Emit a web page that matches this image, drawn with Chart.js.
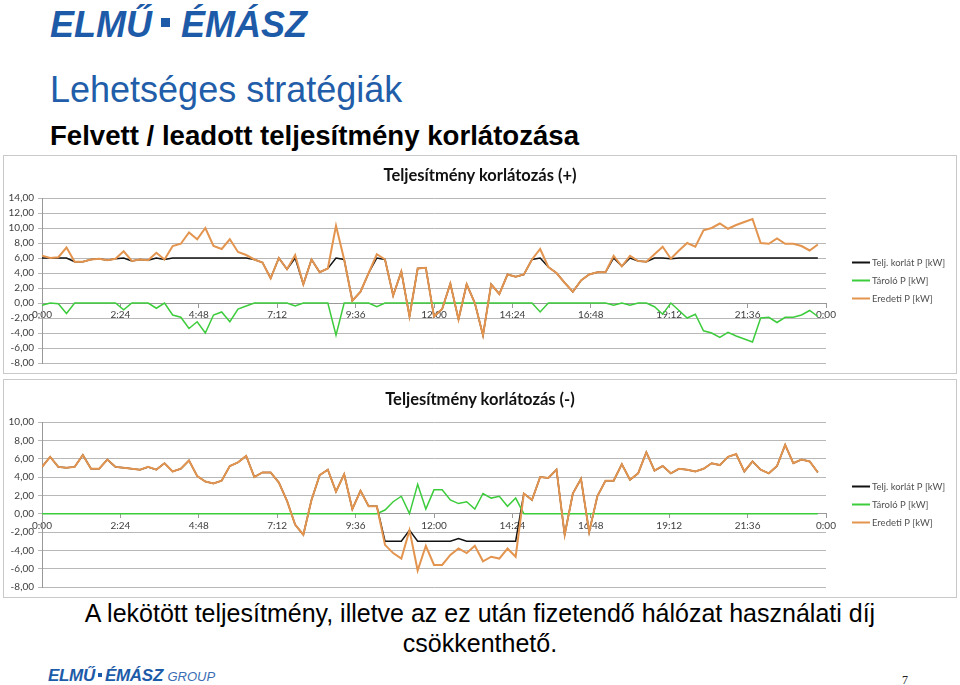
<!DOCTYPE html>
<html>
<head>
<meta charset="utf-8">
<title>Lehetséges stratégiák</title>
<script src="https://cdn.jsdelivr.net/npm/chart.js@4.4.1/dist/chart.umd.min.js"></script>
<style>
  body { margin: 0; width: 960px; height: 685px; position: relative; background: #fff; font-family: "Liberation Sans", Arial, sans-serif; overflow: hidden; }
  .abs { position: absolute; white-space: nowrap; }
  #logo { left: 50px; top: 7px; font: italic bold 36px/36px "Liberation Sans", Arial, sans-serif; color: #1d5ba8; }
  .sq { display: inline-block; width: 9px; height: 9px; background: #1d5ba8; vertical-align: 10px; margin: 0 11px 0 9px; }
  #title { left: 50px; top: 71px; font: 36px/37px "Liberation Sans", Arial, sans-serif; color: #215da8; }
  #subtitle { left: 50px; top: 122px; font: bold 27.6px/28px "Liberation Sans", Arial, sans-serif; color: #000; }
  .box { position: absolute; left: 3px; width: 952px; height: 217px; border: 1px solid #c9c9c9; }
  #box1 { top: 155px; }
  #box2 { top: 379px; }
  .ctitle { position: absolute; left: 0; top: 9px; width: 100%; text-align: center; font: bold 16.5px/20px Lato, sans-serif; color: #111; z-index: 2; }
  #note { left: 0; width: 960px; top: 598px; text-align: center; font: 25px/30px "Liberation Sans", Arial, sans-serif; color: #000; }
  #footlogo { left: 48px; top: 667px; font: italic bold 17px/17px "Liberation Sans", Arial, sans-serif; color: #1d5ba8; letter-spacing: -0.3px; }
  #footlogo .sq { width: 4px; height: 4px; vertical-align: 4px; margin: 0 3px; }
  #footlogo .grp { font-weight: normal; font-size: 13px; color: #3a6db3; letter-spacing: 0; }
  #page { left: 902px; top: 674px; font: 12px/12px "Liberation Serif", serif; color: #222; }
</style>
</head>
<body>
<div id="logo" class="abs">ELMŰ<span class="sq"></span>ÉMÁSZ</div>
<div id="title" class="abs">Lehetséges stratégiák</div>
<div id="subtitle" class="abs">Felvett / leadott teljesítmény korlátozása</div>

<div id="box1" class="box"><div class="ctitle">Teljesítmény korlátozás (+)</div><canvas id="chartPlus"></canvas></div>
<div id="box2" class="box"><div class="ctitle">Teljesítmény korlátozás (-)</div><canvas id="chartMinus"></canvas></div>

<div id="note" class="abs">A lekötött teljesítmény, illetve az ez után fizetendő hálózat használati díj<br>csökkenthető.</div>
<div id="footlogo" class="abs">ELMŰ<span class="sq"></span>ÉMÁSZ <span class="grp">GROUP</span></div>
<div id="page" class="abs">7</div>

<script>
// 15 minute readings over one day
var slotMinutes = 15;
var timeLabels = ['0:00', '2:24', '4:48', '7:12', '9:36', '12:00', '14:24', '16:48', '19:12', '21:36', '0:00'];
var seriesNames = ['Telj. korlát P [kW]', 'Tároló P [kW]', 'Eredeti P [kW]'];

// Teljesítmény korlátozás (+)
var plusLimit = [6.0,6.0,6.0,6.0,5.5,5.5,5.8,5.9,5.7,5.9,
  6.0,5.6,5.8,5.7,6.0,5.8,6.0,6.0,6.0,6.0,
  6.0,6.0,6.0,6.0,6.0,6.0,5.8,5.4,3.3,6.0,
  4.5,6.0,2.5,5.8,4.1,4.6,6.0,5.8,0.3,1.5,
  4.0,6.0,5.8,1.0,4.2,-1.8,4.6,4.7,-1.8,-0.8,
  2.6,-2.2,2.5,0.0,-4.3,2.5,1.2,3.8,3.5,3.8,
  5.8,6.0,4.8,4.0,2.7,1.5,3.0,3.8,4.1,4.1,
  6.0,4.9,6.0,5.6,5.5,6.0,6.0,5.9,6.0,6.0,
  6.0,6.0,6.0,6.0,6.0,6.0,6.0,6.0,6.0,6.0,
  6.0,6.0,6.0,6.0,6.0,6.0];
var plusStorage = [-0.3,0,-0.1,-1.4,0,0,0,0,0,0,
  -0.9,0,0,0,-0.7,0,-1.6,-1.9,-3.4,-2.5,
  -4.0,-1.6,-1.2,-2.5,-0.8,-0.4,0,0,0,0,
  0,-0.4,0,0,0,0,-4.3,0,0,0,
  0,-0.5,0,0,0,0,0,0,0,0,
  0,0,0,0,0,0,0,0,0,0,
  0,-1.2,0,0,0,0,0,0,0,0,
  -0.3,0,-0.3,0,0,-0.5,-1.5,0,-1.0,-2.0,
  -1.5,-3.7,-4.0,-4.6,-3.9,-4.4,-4.8,-5.2,-2.0,-1.9,
  -2.6,-1.9,-1.9,-1.6,-1.0,-1.8];
var plusOriginal = [6.3,6.0,6.1,7.4,5.5,5.5,5.8,5.9,5.7,5.9,
  6.9,5.6,5.8,5.7,6.7,5.8,7.6,7.9,9.4,8.5,
  10.0,7.6,7.2,8.5,6.8,6.4,5.8,5.4,3.3,6.0,
  4.5,6.4,2.5,5.8,4.1,4.6,10.3,5.8,0.3,1.5,
  4.0,6.5,5.8,1.0,4.2,-1.8,4.6,4.7,-1.8,-0.8,
  2.6,-2.2,2.5,0.0,-4.3,2.5,1.2,3.8,3.5,3.8,
  5.8,7.2,4.8,4.0,2.7,1.5,3.0,3.8,4.1,4.1,
  6.3,4.9,6.3,5.6,5.5,6.5,7.5,5.9,7.0,8.0,
  7.5,9.7,10.0,10.6,9.9,10.4,10.8,11.2,8.0,7.9,
  8.6,7.9,7.9,7.6,7.0,7.8];

// Teljesítmény korlátozás (-)
var minusLimit = [5.1,6.2,5.1,5.0,5.1,6.4,4.9,4.9,5.9,5.1,
  5.0,4.9,4.8,5.1,4.8,5.5,4.6,4.9,5.8,4.1,
  3.5,3.3,3.6,5.2,5.6,6.3,4.0,4.5,4.5,3.4,
  1.4,-1.2,-2.3,1.5,4.2,4.8,2.4,4.3,0.5,2.5,
  0.8,0.8,-3.0,-3.0,-3.0,-1.8,-3.0,-3.0,-3.0,-3.0,
  -3.0,-2.7,-3.0,-3.0,-3.0,-3.0,-3.0,-3.0,-3.0,2.2,
  1.5,4.0,3.9,4.8,-2.3,2.2,3.8,-2.0,1.9,3.6,
  3.6,5.4,3.7,4.4,6.7,4.7,5.2,4.4,4.9,4.8,
  4.6,4.9,5.5,5.3,6.2,6.5,4.6,5.7,4.8,4.4,
  5.2,7.5,5.5,5.9,5.7,4.5];
var minusStorage = [0,0,0,0,0,0,0,0,0,0,
  0,0,0,0,0,0,0,0,0,0,
  0,0,0,0,0,0,0,0,0,0,
  0,0,0,0,0,0,0,0,0,0,
  0,0,0.4,1.3,1.9,0,3.2,0.5,2.6,2.6,
  1.5,1.1,1.3,0.5,2.2,1.7,1.9,0.8,1.7,0,
  0,0,0,0,0,0,0,0,0,0,
  0,0,0,0,0,0,0,0,0,0,
  0,0,0,0,0,0,0,0,0,0,
  0,0,0,0,0,0];
var minusOriginal = [5.1,6.2,5.1,5.0,5.1,6.4,4.9,4.9,5.9,5.1,
  5.0,4.9,4.8,5.1,4.8,5.5,4.6,4.9,5.8,4.1,
  3.5,3.3,3.6,5.2,5.6,6.3,4.0,4.5,4.5,3.4,
  1.4,-1.2,-2.3,1.5,4.2,4.8,2.4,4.3,0.5,2.5,
  0.8,0.8,-3.4,-4.3,-4.9,-1.8,-6.2,-3.5,-5.6,-5.6,
  -4.5,-3.8,-4.3,-3.5,-5.2,-4.7,-4.9,-3.8,-4.7,2.2,
  1.5,4.0,3.9,4.8,-2.3,2.2,3.8,-2.0,1.9,3.6,
  3.6,5.4,3.7,4.4,6.7,4.7,5.2,4.4,4.9,4.8,
  4.6,4.9,5.5,5.3,6.2,6.5,4.6,5.7,4.8,4.4,
  5.2,7.5,5.5,5.9,5.7,4.5];

var minutes = plusOriginal.map(function (v, i) { return i * slotMinutes; });

Chart.defaults.font.family = 'Lato, "Liberation Sans", sans-serif';
Chart.defaults.color = '#404040';

// legend drawn to the right of the plot, like the Excel one
var sideLegend = {
  id: 'sideLegend',
  afterDraw: function (chart) {
    var ctx = chart.ctx, area = chart.chartArea;
    var mid = (area.top + area.bottom) / 2;
    ctx.save();
    ctx.font = '9.5px Lato, sans-serif';
    ctx.textBaseline = 'middle';
    chart.data.datasets.forEach(function (ds, i) {
      var y = mid + (i - 1) * 18;
      var x = area.right + 26;
      ctx.strokeStyle = ds.borderColor;
      ctx.lineWidth = 2;
      ctx.beginPath();
      ctx.moveTo(x, y);
      ctx.lineTo(x + 18, y);
      ctx.stroke();
      ctx.fillStyle = '#505050';
      ctx.fillText(ds.label, x + 20, y);
    });
    ctx.restore();
  }
};

function makeChart(id, yMax, limit, storage, original) {
  var ctx = document.getElementById(id).getContext('2d');
  return new Chart(ctx, {
    type: 'line',
    data: {
      labels: minutes,
      datasets: [
        { label: seriesNames[0], data: limit, borderColor: '#111111', borderWidth: 1.5, order: 2 },
        { label: seriesNames[1], data: storage, borderColor: '#3ccc3c', borderWidth: 1.5, order: 1 },
        { label: seriesNames[2], data: original, borderColor: '#e3944e', borderWidth: 2, order: 0 }
      ]
    },
    options: {
      responsive: true,
      maintainAspectRatio: false,
      animation: false,
      events: [],
      elements: { point: { radius: 0 }, line: { tension: 0 } },
      layout: { padding: { left: 0, right: 130, top: 42, bottom: 10 } },
      plugins: {
        legend: { display: false },
        tooltip: { enabled: false },
        title: { display: false }
      },
      scales: {
        x: {
          type: 'linear',
          position: { y: 0 },
          min: 0,
          max: 1440,
          grid: { drawOnChartArea: false, color: '#999', tickLength: 4 },
          border: { color: '#999' },
          ticks: {
            stepSize: 144,
            autoSkip: false,
            maxRotation: 0,
            padding: 2,
            font: { size: 10 },
            callback: function (v, i) { return timeLabels[i]; }
          }
        },
        y: {
          min: -8,
          max: yMax,
          afterFit: function (scale) { scale.width = 38; },
          grid: { color: '#b8b8b8', tickLength: 4 },
          border: { color: '#999' },
          ticks: {
            stepSize: 2,
            padding: 4,
            font: { size: 10 },
            callback: function (v) { return v.toFixed(2).replace('.', ','); }
          }
        }
      }
    },
    plugins: [sideLegend]
  });
}

makeChart('chartPlus', 14, plusLimit, plusStorage, plusOriginal);
makeChart('chartMinus', 10, minusLimit, minusStorage, minusOriginal);
</script>
</body>
</html>
